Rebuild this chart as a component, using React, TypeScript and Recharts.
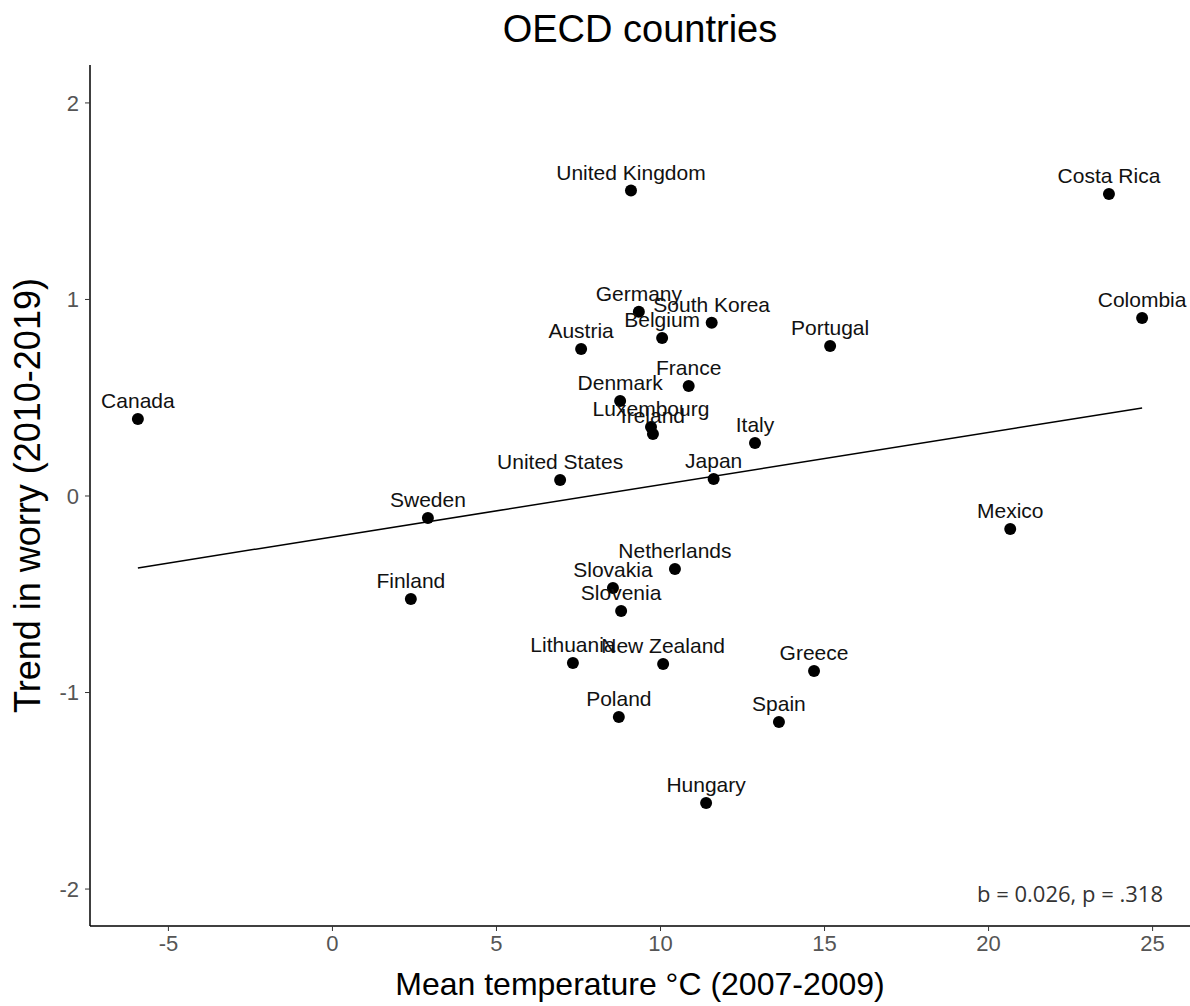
import { ScatterChart, Scatter, XAxis, YAxis, ReferenceLine, Label } from "recharts"

// country labels
const countries = [
  "United Kingdom", "Costa Rica", "Germany", "South Korea", "Belgium", "Colombia", "Austria",
  "Portugal", "France", "Denmark", "Canada", "Luxembourg", "Ireland", "Italy", "United States",
  "Japan", "Sweden", "Mexico", "Netherlands", "Slovakia", "Finland", "Slovenia", "Lithuania",
  "New Zealand", "Greece", "Poland", "Spain", "Hungary",
]

// mean temperature °C (2007-2009)
const meanTemp = [
  9.1, 23.67, 9.34, 11.56, 10.05, 24.68, 7.58,
  15.17, 10.86, 8.77, -5.93, 9.71, 9.77, 12.88, 6.94,
  11.62, 2.91, 20.66, 10.44, 8.55, 2.39, 8.8, 7.33,
  10.08, 14.68, 8.73, 13.61, 11.39,
]

// trend in worry (2010-2019)
const worryTrend = [
  1.554, 1.537, 0.938, 0.882, 0.804, 0.906, 0.748,
  0.763, 0.56, 0.483, 0.392, 0.351, 0.316, 0.27, 0.081,
  0.087, -0.112, -0.168, -0.372, -0.468, -0.524, -0.585, -0.85,
  -0.855, -0.891, -1.125, -1.15, -1.562,
]

const xTicks = [-5, 0, 5, 10, 15, 20, 25]
const yTicks = [-2, -1, 0, 1, 2]

// fitted line end points (b = 0.026)
const fitLine = [
  { x: -5.93, y: -0.366 },
  { x: 24.68, y: 0.448 },
]

const points = countries.map((name, i) => ({ name, temp: meanTemp[i], worry: worryTrend[i] }))

const labelFont = "'Liberation Sans', Arial, sans-serif"

function Dot(props: any) {
  const { cx, cy, payload } = props
  return (
    <g>
      <circle cx={cx} cy={cy} r={6} fill="#000" />
      <text x={cx} y={cy - 11} textAnchor="middle" fontSize={21} fontFamily={labelFont} fill="#111">
        {payload.name}
      </text>
    </g>
  )
}

export default function App() {
  return (
    <div style={{ position: "absolute", left: 0, top: 0, width: 1190, height: 1006, background: "#fff" }}>
      <div
        style={{
          position: "absolute", left: 90, width: 1100, top: 8, textAlign: "center",
          fontFamily: labelFont, fontSize: 38, color: "#000",
        }}
      >
        OECD countries
      </div>
      <ScatterChart width={1190} height={1006} margin={{ top: 65, right: 0, bottom: 0, left: 0 }}>
        <XAxis
          type="number"
          dataKey="temp"
          domain={[-7.39, 26.14]}
          ticks={xTicks}
          allowDataOverflow
          height={80}
          tickSize={5}
          tickMargin={4}
          axisLine={{ stroke: "#000", strokeWidth: 1.5 }}
          tickLine={{ stroke: "#333" }}
          tick={{ fill: "#555", fontSize: 22, fontFamily: labelFont }}
        >
          <Label value="Mean temperature °C (2007-2009)" position="insideBottom" offset={11}
            style={{ fontSize: 32, fontFamily: labelFont, fill: "#000" }} />
        </XAxis>
        <YAxis
          type="number"
          dataKey="worry"
          domain={[-2.188, 2.193]}
          ticks={yTicks}
          allowDataOverflow
          width={90}
          tickSize={5}
          tickMargin={6}
          axisLine={{ stroke: "#000", strokeWidth: 1.5 }}
          tickLine={{ stroke: "#333" }}
          tick={{ fill: "#555", fontSize: 22, fontFamily: labelFont }}
        >
          <Label value="Trend in worry (2010-2019)" angle={-90} position="insideLeft" offset={27}
            style={{ fontSize: 36, fontFamily: labelFont, fill: "#000", textAnchor: "middle" }} />
        </YAxis>
        <ReferenceLine segment={fitLine} stroke="#000" strokeWidth={1.5} ifOverflow="visible" />
        <Scatter data={points} shape={<Dot />} isAnimationActive={false} />
      </ScatterChart>
      <div
        style={{
          position: "absolute", right: 27, top: 878, fontFamily: "'Open Sans', sans-serif",
          fontSize: 22, color: "#333",
        }}
      >
        b = 0.026, p = .318
      </div>
    </div>
  )
}
